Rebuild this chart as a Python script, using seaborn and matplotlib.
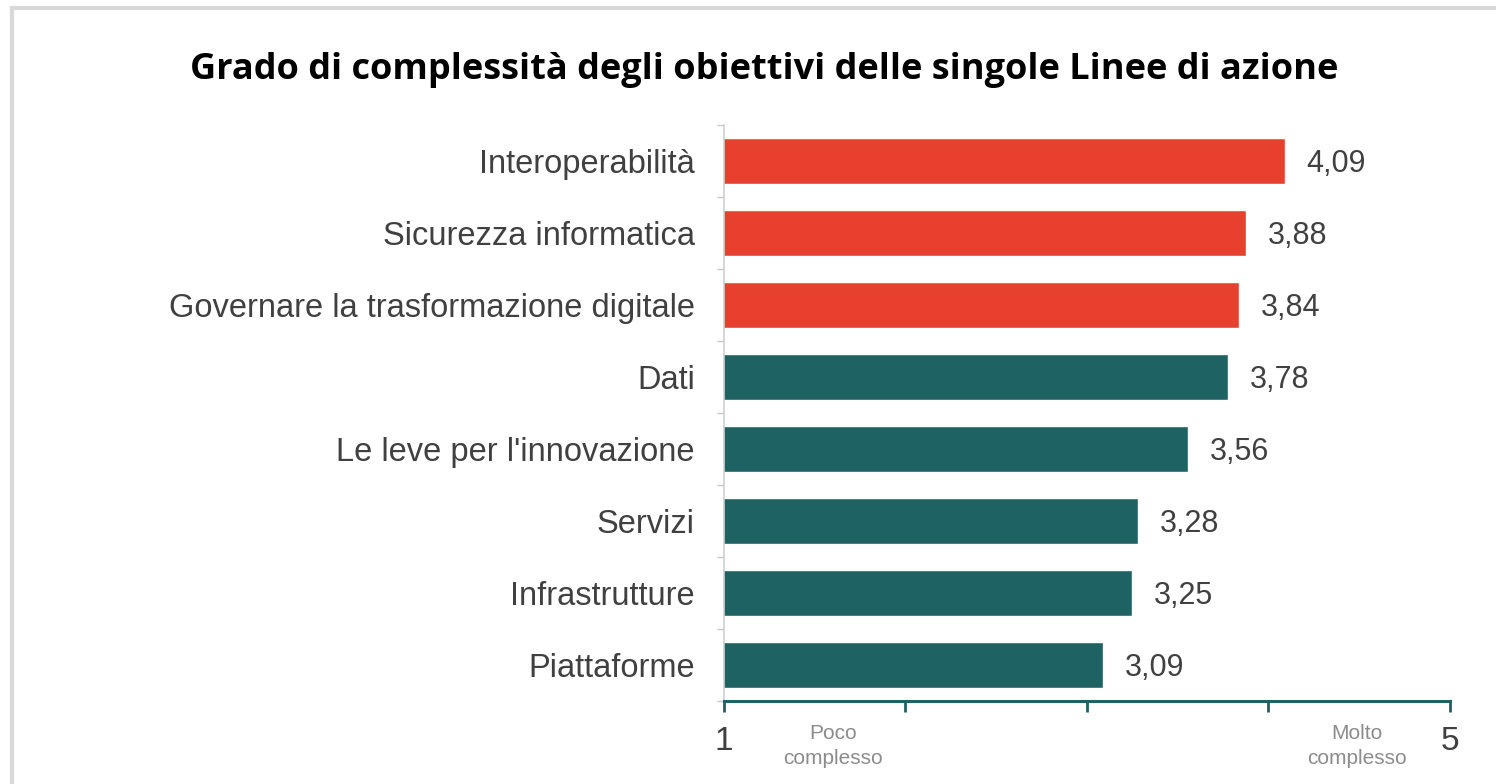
import numpy as np
import pandas as pd
import seaborn as sns
import matplotlib.pyplot as plt
from matplotlib.patches import Rectangle

# data
categories = ["Interoperabilità", "Sicurezza informatica", "Governare la trasformazione digitale",
              "Dati", "Le leve per l'innovazione", "Servizi", "Infrastrutture", "Piattaforme"]
scores = [4.09, 3.88, 3.84, 3.78, 3.56, 3.28, 3.25, 3.09]
groups = ["alta", "alta", "alta", "media", "media", "media", "media", "media"]

RED = '#E8402F'
TEAL = '#1F6264'

df = pd.DataFrame({'linea': categories, 'score': scores, 'gruppo': groups})

sns.set_style('white')
plt.rcParams['font.family'] = ['Liberation Sans', 'DejaVu Sans']

fig = plt.figure(figsize=(14.96, 7.84), dpi=100)
ax = fig.add_axes([0.484, 0.106, 0.485, 0.735])

sns.barplot(data=df, y='linea', x='score', hue='gruppo', palette={'alta': RED, 'media': TEAL},
            dodge=False, width=0.64, saturation=1, legend=False, ax=ax)

ax.set_xlim(1, 5)
ax.set_ylim(7.46, -0.31)
ax.set_xlabel('')
ax.set_ylabel('')

# value labels
for i, v in enumerate(scores):
    ax.text(v + 0.12, i, f'{v:.2f}'.replace('.', ','), va='center_baseline', ha='left',
            fontsize=22, color='#404040')

# y axis: light spine, small marks between categories
ax.tick_params(axis='y', which='major', left=True, length=0, labelsize=23.5,
               labelcolor='#404040', pad=21)
ax.set_yticks(np.arange(-0.5, len(categories), 1), minor=True)
ax.tick_params(axis='y', which='minor', left=True, length=5, color='#c8c8c8', width=1)

# x axis: teal spine with ticks, only 1 and 5 labelled
ax.set_xticks([1, 2, 3, 4, 5])
ax.set_xticklabels(['1', '', '', '', '5'])
ax.tick_params(axis='x', bottom=True, length=8, width=2, color=TEAL, labelsize=24,
               labelcolor='#404040', pad=10)

for s in ['top', 'right']:
    ax.spines[s].set_visible(False)
ax.spines['left'].set_color('#d0d0d0')
ax.spines['left'].set_linewidth(1.2)
ax.spines['bottom'].set_color(TEAL)
ax.spines['bottom'].set_linewidth(2.2)

fig.text(833 / 1496, 1 - 746 / 784, 'Poco\ncomplesso', ha='center', va='center',
         fontsize=15, color='#8c8c8c', linespacing=1.35)
fig.text(1357 / 1496, 1 - 746 / 784, 'Molto\ncomplesso', ha='center', va='center',
         fontsize=15, color='#8c8c8c', linespacing=1.35)

fig.text(764 / 1496, 1 - 70 / 784, 'Grado di complessità degli obiettivi delle singole Linee di azione',
         ha='center', va='center', fontsize=26, fontweight='bold', color='black',
         family=['Open Sans', 'DejaVu Sans'])

# light frame around the chart
fig.patches.append(Rectangle((12 / 1496, -0.05), 1.1, 1 - 8 / 784 + 0.05, transform=fig.transFigure,
                             fill=False, edgecolor='#d9d9d9', linewidth=3))

fig.savefig('out.png', dpi=100)
